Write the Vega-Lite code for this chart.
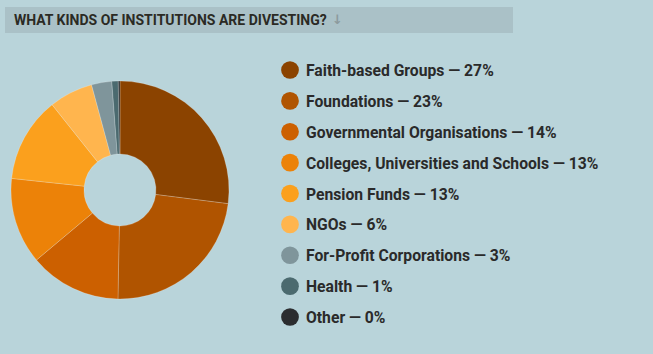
{
  "$schema": "https://vega.github.io/schema/vega-lite/v6.json",
  "background": "#B9D4DA",
  "padding": {"left": 5, "top": 7, "right": 0, "bottom": 29},
  "config": {"view": {"stroke": null}},
  "spacing": 22,
  "datasets": {
    "inst": [
      {"rank": 1, "name": "Faith-based Groups", "label": "Faith-based Groups — 27%", "value": 27.0},
      {"rank": 2, "name": "Foundations", "label": "Foundations — 23%", "value": 23.3},
      {"rank": 3, "name": "Governmental Organisations", "label": "Governmental Organisations — 14%", "value": 13.6},
      {"rank": 4, "name": "Colleges, Universities and Schools", "label": "Colleges, Universities and Schools — 13%", "value": 12.8},
      {"rank": 5, "name": "Pension Funds", "label": "Pension Funds — 13%", "value": 12.6},
      {"rank": 6, "name": "NGOs", "label": "NGOs — 6%", "value": 6.5},
      {"rank": 7, "name": "For-Profit Corporations", "label": "For-Profit Corporations — 3%", "value": 3.0},
      {"rank": 8, "name": "Health", "label": "Health — 1%", "value": 0.95},
      {"rank": 9, "name": "Other", "label": "Other — 0%", "value": 0.25}
    ]
  },
  "vconcat": [
    {
      "width": 508,
      "height": 26,
      "view": {"fill": "#AAC1C7", "stroke": null},
      "data": {"values": [{"t": "WHAT KINDS OF INSTITUTIONS ARE DIVESTING?"}]},
      "layer": [
        {
          "mark": {"type": "text", "align": "left", "baseline": "alphabetic", "font": "Roboto", "fontSize": 14, "fontWeight": "bold", "color": "#2B2A24"},
          "encoding": {"text": {"field": "t"}, "x": {"value": 9}, "y": {"value": 17.5}}
        },
        {
          "mark": {"type": "text", "align": "left", "baseline": "alphabetic", "font": "DejaVu Sans", "fontSize": 13, "fontWeight": "bold", "color": "#8C9A9D"},
          "encoding": {"text": {"value": "↓"}, "x": {"value": 327}, "y": {"value": 16.5}}
        }
      ]
    },
    {
      "spacing": 45,
      "hconcat": [
        {
          "width": 230,
          "height": 270,
          "data": {"name": "inst"},
          "mark": {"type": "arc", "outerRadius": 109, "innerRadius": 36, "stroke": "#ffffff", "strokeOpacity": 0.3, "strokeWidth": 0.7},
          "encoding": {
            "theta": {"field": "value", "type": "quantitative", "stack": true},
            "order": {"field": "rank", "type": "quantitative"},
            "color": {
              "field": "name",
              "type": "nominal",
              "sort": null,
              "legend": null,
              "scale": {
                "domain": ["Faith-based Groups", "Foundations", "Governmental Organisations", "Colleges, Universities and Schools", "Pension Funds", "NGOs", "For-Profit Corporations", "Health", "Other"],
                "range": ["#8B4300", "#B05400", "#CC6000", "#EC8208", "#FBA01D", "#FFB54E", "#7F959B", "#4B6A6F", "#2B2D2F"]
              }
            }
          }
        },
        {
          "width": 373,
          "height": 270,
          "data": {"name": "inst"},
          "encoding": {
            "y": {"field": "name", "type": "nominal", "sort": {"field": "rank"}, "scale": {"type": "point", "padding": 0, "range": [15, 262]}, "axis": null}
          },
          "layer": [
            {
              "mark": {"type": "point", "shape": "circle", "filled": true, "opacity": 1, "size": 314},
              "encoding": {
                "x": {"value": 10},
                "color": {
                  "field": "name",
                  "type": "nominal",
                  "sort": null,
                  "legend": null,
                  "scale": {
                    "domain": ["Faith-based Groups", "Foundations", "Governmental Organisations", "Colleges, Universities and Schools", "Pension Funds", "NGOs", "For-Profit Corporations", "Health", "Other"],
                    "range": ["#8B4300", "#B05400", "#CC6000", "#EC8208", "#FBA01D", "#FFB54E", "#7F959B", "#4B6A6F", "#2B2D2F"]
                  }
                }
              }
            },
            {
              "mark": {"type": "text", "align": "left", "baseline": "middle", "font": "Roboto", "fontSize": 15.7, "fontWeight": "bold", "color": "#2A2A2A", "dy": 1},
              "encoding": {"x": {"value": 26}, "text": {"field": "label"}}
            }
          ]
        }
      ]
    }
  ]
}
